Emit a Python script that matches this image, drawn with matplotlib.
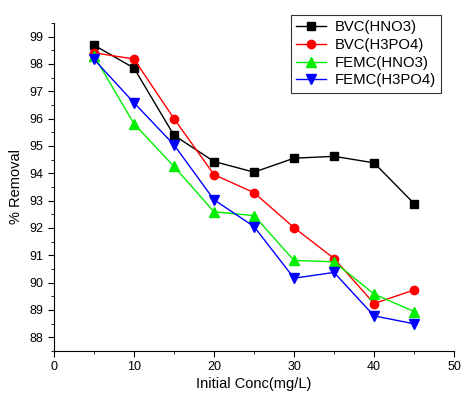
import matplotlib.pyplot as plt
from matplotlib.ticker import MultipleLocator

plt.rcParams['font.family'] = ['Liberation Sans', 'DejaVu Sans']

conc = [5, 10, 15, 20, 25, 30, 35, 40, 45]
bvc_hno3 = [98.69, 97.85, 95.39, 94.43, 94.04, 94.55, 94.62, 94.38, 92.89]
bvc_h3po4 = [98.41, 98.18, 96.00, 93.95, 93.29, 92.01, 90.88, 89.23, 89.73]
femc_hno3 = [98.30, 95.81, 94.25, 92.59, 92.45, 90.81, 90.76, 89.58, 88.94]
femc_h3po4 = [98.17, 96.58, 95.04, 93.03, 92.05, 90.16, 90.37, 88.78, 88.49]

fig = plt.figure(figsize=(4.61, 3.96), dpi=100)
ax = fig.add_axes([0.117, 0.114, 0.868, 0.828])

ax.plot(conc, bvc_hno3, color='black', marker='s', ms=5.5, lw=1, label='BVC(HNO3)')
ax.plot(conc, bvc_h3po4, color='red', marker='o', ms=6, lw=1, label='BVC(H3PO4)')
ax.plot(conc, femc_hno3, color='#00ee00', marker='^', ms=6.5, lw=1, label='FEMC(HNO3)')
ax.plot(conc, femc_h3po4, color='blue', marker='v', ms=6.5, lw=1, label='FEMC(H3PO4)')

ax.set_xlim(0, 50)
ax.set_ylim(87.5, 99.5)
ax.xaxis.set_major_locator(MultipleLocator(10))
ax.xaxis.set_minor_locator(MultipleLocator(5))
ax.yaxis.set_major_locator(MultipleLocator(1))
ax.yaxis.set_minor_locator(MultipleLocator(0.5))
ax.spines['top'].set_visible(False)
ax.spines['right'].set_visible(False)
ax.tick_params(which='major', direction='out', length=4, labelsize=9)
ax.tick_params(which='minor', direction='out', length=2)

ax.set_xlabel('Initial Conc(mg/L)', fontsize=10.5, labelpad=3)
ax.set_ylabel('% Removal', fontsize=10.5, labelpad=5)

leg = ax.legend(loc='upper right', fontsize=10.7, frameon=True, fancybox=False,
                edgecolor='black', handlelength=2.0, borderpad=0.35,
                labelspacing=0.25, handletextpad=0.6, borderaxespad=0,
                bbox_to_anchor=(0.9675, 1.024))
leg.get_frame().set_linewidth(0.8)

fig.savefig('out.png', dpi=100)
